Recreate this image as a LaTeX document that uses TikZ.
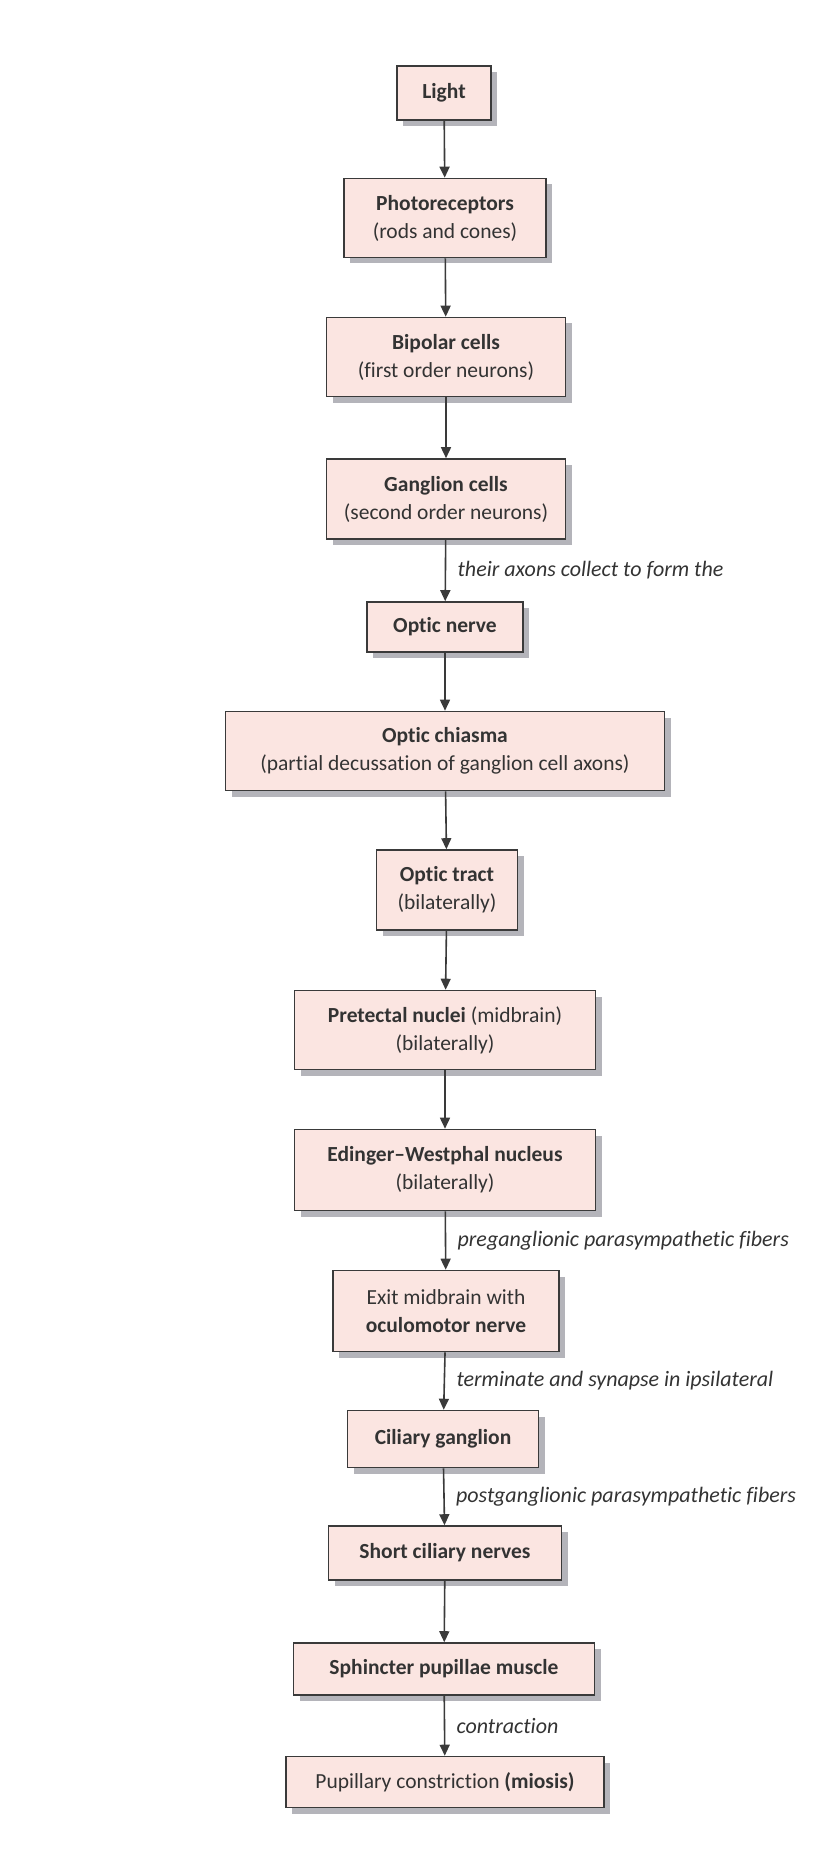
\documentclass[tikz,border=0pt]{standalone}
\usepackage{fontspec}
\setmainfont{Carlito}[Ligatures=NoCommon]
\usetikzlibrary{arrows.meta,shadows}

\definecolor{boxfill}{HTML}{FBE5E1}
\definecolor{boxline}{HTML}{3A3A3A}
\definecolor{inktext}{HTML}{333333}
\definecolor{shadowgray}{HTML}{B4B4BA}

\tikzset{
    stage/.style={draw=boxline, line width=1.6pt, fill=boxfill, text=inktext,
        align=center, inner sep=2pt, font=\fontsize{21.5}{28}\selectfont,
        drop shadow={shadow xshift=6pt, shadow yshift=-6pt, fill=shadowgray, opacity=1}},
    flow/.style={draw=boxline, line width=1.6pt, -{Triangle[length=11pt,width=10pt]}},
    note/.style={right, xshift=8pt, text=inktext, font=\fontsize{22}{24}\selectfont\itshape}
}

\begin{document}
\begin{tikzpicture}[x=1pt, y=-1pt]
    \useasboundingbox (0,0) rectangle (820,1859);

    % Retina
    \node[stage, minimum width=94pt, minimum height=54pt] (light) at (444,93) {\textbf{Light}};
    \node[stage, minimum width=202pt, minimum height=79pt] (photo) at (445,218)
        {\textbf{Photoreceptors}\\(rods and cones)};
    \node[stage, minimum width=239pt, minimum height=79pt] (bipolar) at (446,357)
        {\textbf{Bipolar cells}\\(first order neurons)};
    \node[stage, minimum width=239pt, minimum height=80pt] (ganglion) at (446,499)
        {\textbf{Ganglion cells}\\(second order neurons)};

    % Optic pathway
    \node[stage, minimum width=156pt, minimum height=50pt] (nerve) at (445,627) {\textbf{Optic nerve}};
    \node[stage, minimum width=439pt, minimum height=79pt] (chiasma) at (445,751)
        {\textbf{Optic chiasma}\\(partial decussation of ganglion cell axons)};
    \node[stage, minimum width=141pt, minimum height=80pt] (tract) at (447,890)
        {\textbf{Optic tract}\\(bilaterally)};

    % Midbrain
    \node[stage, minimum width=301pt, minimum height=79pt] (pretectal) at (445,1030)
        {\textbf{Pretectal nuclei} (midbrain)\\(bilaterally)};
    \node[stage, minimum width=301pt, minimum height=81pt] (edinger) at (445,1170)
        {\textbf{Edinger--Westphal nucleus}\\(bilaterally)};
    \node[stage, minimum width=226pt, minimum height=81pt] (exit) at (446,1311)
        {Exit midbrain with\\\textbf{oculomotor nerve}};

    % Efferent side
    \node[stage, minimum width=191pt, minimum height=57pt] (ciliary) at (443,1439) {\textbf{Ciliary ganglion}};
    \node[stage, minimum width=233pt, minimum height=54pt] (short) at (445,1553) {\textbf{Short ciliary nerves}};
    \node[stage, minimum width=301pt, minimum height=52pt] (sphincter) at (444,1669) {\textbf{Sphincter pupillae muscle}};
    \node[stage, minimum width=318pt, minimum height=51pt] (pupil) at (445,1782)
        {Pupillary constriction \textbf{(miosis)}};

    % Plain arrows
    \foreach \a/\b in {light/photo, photo/bipolar, bipolar/ganglion, nerve/chiasma,
        chiasma/tract, tract/pretectal, pretectal/edinger, short/sphincter}
        \draw[flow] (\a) -- (\b);

    % Labelled arrows
    \draw[flow] (ganglion) -- node[note] {their axons collect to form the} (nerve);
    \draw[flow] (edinger) -- node[note] {preganglionic parasympathetic fibers} (exit);
    \draw[flow] (exit) -- node[note] {terminate and synapse in ipsilateral} (ciliary);
    \draw[flow] (ciliary) -- node[note] {postganglionic parasympathetic fibers} (short);
    \draw[flow] (sphincter) -- node[note] {contraction} (pupil);
\end{tikzpicture}
\end{document}
